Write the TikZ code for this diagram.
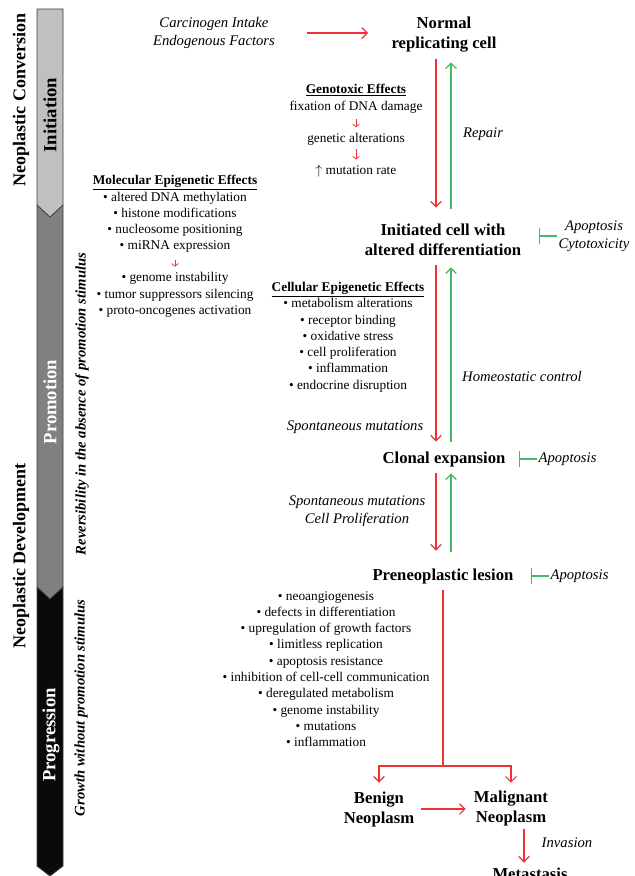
\documentclass[tikz,border=0pt]{standalone}
\usepackage{fontspec}
\setmainfont{Liberation Serif}
\usepackage{tikz}
\usetikzlibrary{arrows.meta,positioning}
\usepackage{xcolor}
\definecolor{stepred}{RGB}{237,50,55}
\definecolor{backgreen}{RGB}{70,185,105}
\definecolor{initgray}{RGB}{192,192,192}
\definecolor{promgray}{RGB}{128,128,128}
\definecolor{proggray}{RGB}{10,10,10}
\definecolor{barline}{RGB}{60,60,60}

\begin{document}
\begin{tikzpicture}[
    x=0.75pt, y=-0.75pt,
    cell/.style={font=\fontsize{12.5}{15}\selectfont\bfseries, align=center, inner sep=1pt},
    note/.style={font=\fontsize{11}{13.5}\selectfont\itshape, align=center, inner sep=1pt},
    effects/.style={font=\fontsize{10}{12.2}\selectfont, align=center, inner sep=1pt},
    phase/.style={rotate=90, font=\fontsize{14}{16}\selectfont\bfseries},
    period/.style={rotate=90, font=\fontsize{13.5}{16}\selectfont\bfseries},
    cond/.style={rotate=90, font=\fontsize{11}{13}\selectfont\bfseries\itshape},
    stage/.style={draw=barline, line width=0.6pt},
    fwd/.style={-{Straight Barb[length=4pt,width=8pt]}, draw=stepred, line width=0.9pt},
    revarr/.style={-{Straight Barb[length=4pt,width=8pt]}, draw=backgreen, line width=0.9pt},
    inhib/.style={-{Bar[width=12pt]}, draw=backgreen, line width=0.9pt},
    smallarr/.style={-{Straight Barb[length=2pt,width=5pt]}, draw=stepred, line width=0.6pt}
  ]
  \useasboundingbox (0,0) rectangle (635,876);
  \clip (0,0) rectangle (635,876);

  \filldraw[stage, fill=proggray] (37,587) -- (63,587) -- (63,866) -- (50,876) -- (37,866) -- cycle;
  \filldraw[stage, fill=promgray] (37,205) -- (63,205) -- (63,587) -- (50,599) -- (37,587) -- cycle;
  \filldraw[stage, fill=initgray] (37,9) -- (63,9) -- (63,205) -- (50,217) -- (37,205) -- cycle;
  \node[phase] (initiation) at (50,115) {Initiation};
  \node[phase, text=white] (promotion) at (50,402) {Promotion};
  \node[phase, text=white] (progression) at (51,735) {Progression};
  \node[period] (conversion) at (21,100) {Neoplastic Conversion};
  \node[period] (development) at (21,556) {Neoplastic Development};
  \node[cond] (reversible) at (82,404) {Reversibility in the absence of promotion stimulus};
  \node[cond] (growth) at (81,708) {Growth without promotion stimulus};

  \node[cell] (normal) at (444,35) {Normal\\replicating cell};
  \node[cell] (initiated) at (443,240) {Initiated cell with\\altered differentiation};
  \node[cell] (clonal) at (444,459) {Clonal expansion};
  \node[cell] (preneo) at (443,576) {Preneoplastic lesion};
  \node[cell] (benign) at (379,809) {Benign\\Neoplasm};
  \node[cell] (malignant) at (511,808) {Malignant\\Neoplasm};
  \node[cell, anchor=base] (metastasis) at (530,879) {Metastasis};
  \coordinate (fwdcol) at (436,0);
  \coordinate (revcol) at (451,0);
  \coordinate (invcol) at (524,0);
  \coordinate (branch) at (443,766);

  \node[note] (agents) at (214,33) {Carcinogen Intake\\Endogenous Factors};
  \draw[fwd, shorten <=23pt, shorten >=16.5pt] (agents.east) -- (agents.east -| normal.west);

  \draw[fwd, shorten <=3.9pt, shorten >=11.2pt] (normal.south -| fwdcol) -- (initiated.north -| fwdcol);
  \draw[revarr, shorten <=10.5pt, shorten >=6.2pt] (initiated.north -| revcol) -- (normal.south -| revcol);
  \draw[fwd, shorten <=6pt, shorten >=6.2pt] (initiated.south -| fwdcol) -- (clonal.north -| fwdcol);
  \draw[revarr, shorten <=6.2pt, shorten >=7.5pt] (clonal.north -| revcol) -- (initiated.south -| revcol);
  \draw[fwd, shorten <=3.9pt, shorten >=12.2pt] (clonal.south -| fwdcol) -- (preneo.north -| fwdcol);
  \draw[revarr, shorten <=11.4pt, shorten >=3.9pt] (preneo.north -| revcol) -- (clonal.south -| revcol);
  \draw[stepred, line width=0.9pt, shorten <=3.9pt] (preneo.south) -- (branch);
  \draw[fwd, shorten >=5.5pt] (branch) -| (benign.north);
  \draw[fwd, shorten >=4.6pt] (branch) -| (malignant.north);
  \draw[fwd, shorten <=4pt, shorten >=5pt] (benign.east) -- (benign.east -| malignant.west);
  \draw[fwd, shorten <=1pt, shorten >=2.5pt] (malignant.south -| invcol) -- (metastasis.north -| invcol);

  \node[note] (repair) at (483,134) {Repair};
  \node[note] (homeostasis) at (522,376) {Homeostatic control};
  \node[note] (spont) at (355,427) {Spontaneous mutations};
  \node[note] (spontprolif) at (357,511) {Spontaneous mutations\\Cell Proliferation};
  \node[note] (invasion) at (567,843) {Invasion};

  \coordinate (blockA) at (539,236);
  \node[note, anchor=west] (apopA) at (557,236) {Apoptosis\\Cytotoxicity};
  \draw[inhib] (apopA.west) -- (blockA);
  \coordinate (blockB) at (519,459);
  \node[note, anchor=west] (apopB) at (537,459) {Apoptosis};
  \draw[inhib] (apopB.west) -- (blockB);
  \coordinate (blockC) at (531,576);
  \node[note, anchor=west] (apopC) at (549,576) {Apoptosis};
  \draw[inhib] (apopC.west) -- (blockC);

  \node[effects] (genohead) at (356,90) {\underline{\textbf{Genotoxic Effects}}};
  \node[effects] (fixation) at (356,107) {fixation of DNA damage};
  \node[effects] (alterations) at (356,139) {genetic alterations};
  \node[effects] (mutrate) at (356,171) {$\uparrow$ mutation rate};
  \draw[smallarr, shorten <=3.5pt, shorten >=3pt] (fixation) -- (alterations);
  \draw[smallarr, shorten <=1.5pt, shorten >=3pt] (alterations) -- (mutrate);

  \node[effects] (molecular) at (175,214) {\underline{\textbf{Molecular Epigenetic Effects}}\\• altered DNA methylation\\• histone modifications\\• nucleosome positioning\\• miRNA expression};
  \node[effects] (molresult) at (175,295) {• genome instability\\• tumor suppressors silencing\\• proto-oncogenes activation};
  \draw[smallarr, shorten <=4.6pt, shorten >=3.3pt] (molecular) -- (molresult);

  \node[effects] (cellular) at (348,337) {\underline{\textbf{Cellular Epigenetic Effects}}\\• metabolism alterations\\• receptor binding\\• oxidative stress\\• cell proliferation\\• inflammation\\• endocrine disruption};

  \node[effects] (hallmarks) at (326,669) {• neoangiogenesis\\• defects in differentiation\\• upregulation of growth factors\\• limitless replication\\• apoptosis resistance\\• inhibition of cell-cell communication\\• deregulated metabolism\\• genome instability\\• mutations\\• inflammation};
\end{tikzpicture}
\end{document}
